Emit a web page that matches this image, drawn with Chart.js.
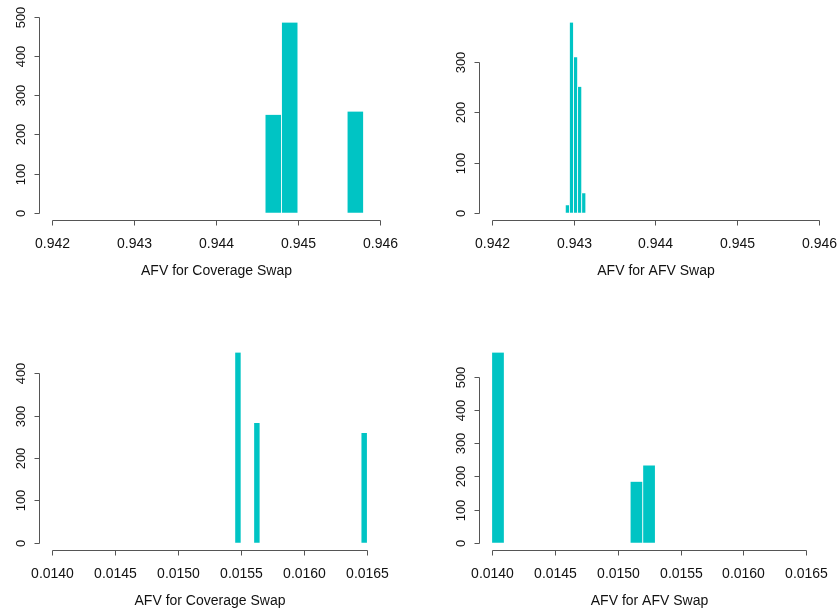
<!DOCTYPE html>
<html>
<head>
<meta charset="utf-8">
<script src="https://cdn.jsdelivr.net/npm/chart.js@4.4.1/dist/chart.umd.min.js"></script>
<style>
  body { margin: 0; background: #fff; width: 837px; height: 613px; overflow: hidden; position: relative; }
  canvas { position: absolute; }
</style>
</head>
<body>
<canvas id="coverageTop" width="418" height="306" style="left:0;top:0"></canvas>
<canvas id="afvTop" width="418" height="306" style="left:419px;top:0"></canvas>
<canvas id="coverageBottom" width="418" height="306" style="left:0;top:307px"></canvas>
<canvas id="afvBottom" width="418" height="306" style="left:419px;top:307px"></canvas>
<script>
// histogram breaks and counts
const coverageBreaksTop = [0.9446, 0.9448, 0.9450, 0.9452, 0.9454, 0.9456, 0.9458];
const coverageCountsTop = [250, 485, 0, 0, 0, 258];

const afvBreaksTop = [0.94290, 0.94295, 0.94300, 0.94305, 0.94310, 0.94315];
const afvCountsTop = [15, 379, 310, 251, 39];

const coverageBreaksBottom = [0.01545, 0.01550, 0.01555, 0.01560, 0.01565, 0.01570, 0.01575, 0.01580,
  0.01585, 0.01590, 0.01595, 0.01600, 0.01605, 0.01610, 0.01615, 0.01620, 0.01625, 0.01630,
  0.01635, 0.01640, 0.01645, 0.01650];
const coverageCountsBottom = [449, 0, 0, 283, 0, 0, 0, 0, 0, 0, 0, 0, 0, 0, 0, 0, 0, 0, 0, 0, 259];

const afvBreaksBottom = [0.0140, 0.0141, 0.0142, 0.0143, 0.0144, 0.0145, 0.0146, 0.0147,
  0.0148, 0.0149, 0.0150, 0.0151, 0.0152, 0.0153, 0.0154, 0.0155];
const afvCountsBottom = [573, 0, 0, 0, 0, 0, 0, 0, 0, 0, 0, 184, 233, 0, 0];

// axes
const xLimitsTop = [0.942, 0.946];
const xLimitsBottom = [0.0140, 0.0166];
const xTicksTop = [0.942, 0.943, 0.944, 0.945, 0.946];
const xTickLabelsTop = ['0.942', '0.943', '0.944', '0.945', '0.946'];
const xTicksBottom = [0.0140, 0.0145, 0.0150, 0.0155, 0.0160, 0.0165];
const xTickLabelsBottom = ['0.0140', '0.0145', '0.0150', '0.0155', '0.0160', '0.0165'];
const yTicksCoverageTop = [0, 100, 200, 300, 400, 500];
const yTicksAfvTop = [0, 100, 200, 300];
const yTicksCoverageBottom = [0, 100, 200, 300, 400];
const yTicksAfvBottom = [0, 100, 200, 300, 400, 500];
const xTitleCoverage = 'AFV for Coverage Swap';
const xTitleAfv = 'AFV for AFV Swap';

const BAR = '#00C4C4';
const FONT = '"Liberation Sans", Arial, sans-serif';

// base-R style axes: lines only between first and last tick, outward ticks
const rAxes = {
    id: 'rAxes',
    afterDraw(chart, args, opts) {
        const ctx = chart.ctx;
        const a = chart.chartArea;
        const x = chart.scales.x, y = chart.scales.y;
        ctx.save();
        ctx.strokeStyle = '#555';
        ctx.lineWidth = 1;
        ctx.fillStyle = '#111';

        // x axis
        const yb = Math.round(a.bottom) + 0.5;
        const xs = opts.xTicks.map(v => Math.round(x.getPixelForValue(v)) + 0.5);
        ctx.beginPath();
        ctx.moveTo(xs[0], yb);
        ctx.lineTo(xs[xs.length - 1], yb);
        xs.forEach(px => { ctx.moveTo(px, yb); ctx.lineTo(px, yb + 5); });
        ctx.stroke();
        ctx.font = '14px ' + FONT;
        ctx.textAlign = 'center';
        ctx.textBaseline = 'middle';
        xs.forEach((px, i) => ctx.fillText(opts.xLabels[i], px, a.bottom + 23.5));
        ctx.fillText(opts.title, (xs[0] + xs[xs.length - 1]) / 2, a.bottom + 50.5);

        // y axis
        const xl = Math.round(a.left) + 0.5;
        const ys = opts.yTicks.map(v => Math.round(y.getPixelForValue(v)) + 0.5);
        ctx.beginPath();
        ctx.moveTo(xl, ys[0]);
        ctx.lineTo(xl, ys[ys.length - 1]);
        ys.forEach(py => { ctx.moveTo(xl, py); ctx.lineTo(xl - 5, py); });
        ctx.stroke();
        ctx.font = '13px ' + FONT;
        ys.forEach((py, i) => {
            ctx.save();
            ctx.translate(a.left - 17, py);
            ctx.rotate(-Math.PI / 2);
            ctx.fillText(String(opts.yTicks[i]), 0, 0);
            ctx.restore();
        });
        ctx.restore();
    }
};

function drawHist(id, breaks, counts, xLim, xTicks, xLabels, yTicks, title, padding) {
    const ymax = Math.max(...counts);
    const xr = xLim[1] - xLim[0];
    const points = counts.map((c, i) => ({ x: (breaks[i] + breaks[i + 1]) / 2, y: c }));
    return new Chart(document.getElementById(id), {
        type: 'bar',
        data: {
            datasets: [{
                data: points,
                backgroundColor: BAR,
                borderColor: '#fff',
                borderWidth: { left: 0.75, right: 0.75, top: 0, bottom: 0 },
                barPercentage: 1,
                categoryPercentage: 1
            }]
        },
        options: {
            responsive: false,
            animation: false,
            events: [],
            layout: { padding: padding },
            plugins: {
                legend: { display: false },
                tooltip: { enabled: false },
                rAxes: { xTicks: xTicks, xLabels: xLabels, yTicks: yTicks, title: title }
            },
            scales: {
                x: {
                    type: 'linear',
                    display: false,
                    offset: false,
                    min: xLim[0] - 0.04 * xr,
                    max: xLim[1] + 0.04 * xr,
                    afterBuildTicks: s => { s.ticks = xTicks.map(v => ({ value: v })); }
                },
                y: {
                    display: false,
                    min: -0.04 * ymax,
                    max: 1.04 * ymax
                }
            }
        },
        plugins: [rAxes]
    });
}

drawHist('coverageTop', coverageBreaksTop, coverageCountsTop, xLimitsTop, xTicksTop, xTickLabelsTop,
    yTicksCoverageTop, xTitleCoverage, { left: 38.6, top: 15, right: 24.9, bottom: 85.7 });
drawHist('afvTop', afvBreaksTop, afvCountsTop, xLimitsTop, xTicksTop, xTickLabelsTop,
    yTicksAfvTop, xTitleAfv, { left: 59.6, top: 15, right: 4.9, bottom: 85.7 });
drawHist('coverageBottom', coverageBreaksBottom, coverageCountsBottom, xLimitsBottom, xTicksBottom, xTickLabelsBottom,
    yTicksCoverageBottom, xTitleCoverage, { left: 38.6, top: 38, right: 24.9, bottom: 62.7 });
drawHist('afvBottom', afvBreaksBottom, afvCountsBottom, xLimitsBottom, xTicksBottom, xTickLabelsBottom,
    yTicksAfvBottom, xTitleAfv, { left: 59.6, top: 38, right: 4.9, bottom: 62.7 });
</script>
</body>
</html>
